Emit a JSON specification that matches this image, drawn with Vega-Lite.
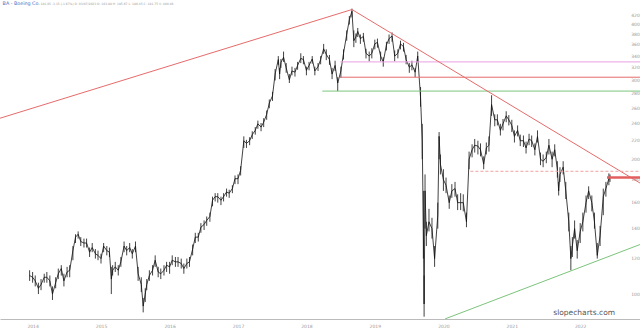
{
"$schema": "https://vega.github.io/schema/vega-lite/v6.json",
"width": 640, "height": 319,
"autosize": {"type": "none"},
"padding": {"left": 0, "top": 0, "right": 0, "bottom": 11},
"background": "white",
"config": {"view": {"stroke": null}, "font": "DejaVu Sans"},
"datasets": {
"px": [
{"d":"2014-06-15","v":110,"l":107,"h":113},{"d":"2014-07-01","v":109,"l":106,"h":112},{"d":"2014-07-15","v":107,"l":104,"h":110},{"d":"2014-08-01","v":103,"l":100,"h":106},{"d":"2014-08-15","v":105,"l":102,"h":108},{"d":"2014-09-01","v":109,"l":106,"h":111},{"d":"2014-09-15","v":109,"l":106,"h":112},{"d":"2014-10-01","v":107,"l":104,"h":110},{"d":"2014-10-15","v":100,"l":97,"h":104},{"d":"2014-11-01","v":106,"l":103,"h":109},{"d":"2014-11-15","v":111,"l":108,"h":114},{"d":"2014-12-01","v":114,"l":110,"h":116},{"d":"2014-12-15","v":107,"l":104,"h":111},
{"d":"2015-01-01","v":112,"l":109,"h":115},{"d":"2015-01-15","v":113,"l":109,"h":116},{"d":"2015-02-01","v":125,"l":119,"h":128},{"d":"2015-02-15","v":134,"l":130,"h":136},{"d":"2015-03-01","v":136,"l":133,"h":138},{"d":"2015-03-15","v":131,"l":128,"h":134},{"d":"2015-04-01","v":130,"l":127,"h":133},{"d":"2015-04-15","v":130,"l":127,"h":133},{"d":"2015-05-01","v":124,"l":121,"h":127},{"d":"2015-05-15","v":127,"l":124,"h":130},{"d":"2015-06-01","v":123,"l":120,"h":126},{"d":"2015-06-15","v":122,"l":119,"h":125},{"d":"2015-07-01","v":120,"l":117,"h":123},{"d":"2015-07-15","v":128,"l":124,"h":130},{"d":"2015-08-01","v":125,"l":122,"h":128},{"d":"2015-08-15","v":124,"l":121,"h":127},{"d":"2015-08-25","v":108,"l":100,"h":115},{"d":"2015-09-01","v":113,"l":110,"h":116},{"d":"2015-09-15","v":115,"l":112,"h":118},{"d":"2015-10-01","v":113,"l":110,"h":116},{"d":"2015-10-15","v":118,"l":115,"h":121},{"d":"2015-11-01","v":128,"l":124,"h":131},{"d":"2015-11-15","v":125,"l":122,"h":128},{"d":"2015-12-01","v":127,"l":124,"h":130},{"d":"2015-12-15","v":123,"l":120,"h":126},
{"d":"2016-01-01","v":128,"l":124,"h":131},{"d":"2016-01-15","v":111,"l":107,"h":115},{"d":"2016-02-01","v":105,"l":101,"h":109},{"d":"2016-02-11","v":94,"l":91,"h":98},{"d":"2016-02-22","v":100,"l":96,"h":103},{"d":"2016-03-01","v":105,"l":102,"h":108},{"d":"2016-03-15","v":110,"l":107,"h":113},{"d":"2016-04-01","v":113,"l":110,"h":116},{"d":"2016-04-15","v":119,"l":115,"h":122},{"d":"2016-05-01","v":112,"l":109,"h":115},{"d":"2016-05-15","v":111,"l":108,"h":114},{"d":"2016-06-01","v":113,"l":110,"h":116},{"d":"2016-06-15","v":116,"l":112,"h":118},{"d":"2016-07-01","v":115,"l":111,"h":118},{"d":"2016-07-15","v":119,"l":116,"h":122},{"d":"2016-08-01","v":118,"l":115,"h":121},{"d":"2016-08-15","v":118,"l":115,"h":121},{"d":"2016-09-01","v":117,"l":114,"h":120},{"d":"2016-09-15","v":114,"l":111,"h":117},{"d":"2016-10-01","v":117,"l":114,"h":120},{"d":"2016-10-15","v":118,"l":115,"h":121},{"d":"2016-11-01","v":126,"l":122,"h":129},{"d":"2016-11-15","v":134,"l":130,"h":137},{"d":"2016-12-01","v":134,"l":131,"h":137},{"d":"2016-12-15","v":141,"l":137,"h":144},
{"d":"2017-01-01","v":143,"l":139,"h":146},{"d":"2017-01-15","v":146,"l":142,"h":149},{"d":"2017-02-01","v":149,"l":145,"h":152},{"d":"2017-02-15","v":162,"l":157,"h":165},{"d":"2017-03-01","v":165,"l":161,"h":168},{"d":"2017-03-15","v":165,"l":160,"h":168},{"d":"2017-04-01","v":162,"l":158,"h":165},{"d":"2017-04-15","v":165,"l":161,"h":168},{"d":"2017-05-01","v":169,"l":165,"h":172},{"d":"2017-05-15","v":168,"l":164,"h":171},{"d":"2017-06-01","v":172,"l":168,"h":175},{"d":"2017-06-15","v":181,"l":176,"h":184},{"d":"2017-07-01","v":181,"l":176,"h":185},{"d":"2017-07-15","v":189,"l":184,"h":193},{"d":"2017-08-01","v":220,"l":212,"h":225},{"d":"2017-08-15","v":217,"l":212,"h":221},{"d":"2017-09-01","v":220,"l":215,"h":224},{"d":"2017-09-15","v":227,"l":222,"h":231},{"d":"2017-10-01","v":232,"l":227,"h":236},{"d":"2017-10-15","v":240,"l":234,"h":244},{"d":"2017-11-01","v":236,"l":231,"h":241},{"d":"2017-11-15","v":242,"l":236,"h":247},{"d":"2017-12-01","v":252,"l":245,"h":257},{"d":"2017-12-15","v":267,"l":260,"h":272},
{"d":"2018-01-01","v":277,"l":270,"h":283},{"d":"2018-01-15","v":310,"l":300,"h":318},{"d":"2018-02-01","v":334,"l":325,"h":340},{"d":"2018-02-08","v":310,"l":302,"h":320},{"d":"2018-02-15","v":329,"l":320,"h":335},{"d":"2018-03-01","v":338,"l":330,"h":348},{"d":"2018-03-15","v":320,"l":312,"h":328},{"d":"2018-04-01","v":301,"l":296,"h":310},{"d":"2018-04-15","v":315,"l":308,"h":322},{"d":"2018-05-01","v":313,"l":306,"h":320},{"d":"2018-05-15","v":324,"l":317,"h":330},{"d":"2018-06-01","v":336,"l":328,"h":345},{"d":"2018-06-15","v":334,"l":326,"h":340},{"d":"2018-07-01","v":316,"l":308,"h":322},{"d":"2018-07-15","v":324,"l":316,"h":330},{"d":"2018-08-01","v":335,"l":327,"h":340},{"d":"2018-08-15","v":315,"l":308,"h":322},{"d":"2018-09-01","v":322,"l":315,"h":328},{"d":"2018-09-15","v":334,"l":326,"h":340},{"d":"2018-10-01","v":353,"l":344,"h":362},{"d":"2018-10-15","v":343,"l":333,"h":352},{"d":"2018-11-01","v":334,"l":325,"h":342},{"d":"2018-11-15","v":310,"l":302,"h":320},{"d":"2018-12-01","v":324,"l":315,"h":332},{"d":"2018-12-15","v":296,"l":284,"h":305},
{"d":"2019-01-01","v":315,"l":304,"h":322},{"d":"2019-01-15","v":345,"l":334,"h":352},{"d":"2019-02-01","v":380,"l":368,"h":388},{"d":"2019-02-15","v":410,"l":400,"h":418},{"d":"2019-03-01","v":428,"l":415,"h":434},{"d":"2019-03-11","v":368,"l":356,"h":388},{"d":"2019-03-22","v":375,"l":364,"h":382},{"d":"2019-04-01","v":386,"l":375,"h":393},{"d":"2019-04-15","v":372,"l":362,"h":380},{"d":"2019-05-01","v":376,"l":366,"h":383},{"d":"2019-05-15","v":345,"l":336,"h":353},{"d":"2019-06-01","v":340,"l":331,"h":348},{"d":"2019-06-15","v":345,"l":336,"h":354},{"d":"2019-07-01","v":362,"l":352,"h":370},{"d":"2019-07-15","v":365,"l":355,"h":372},{"d":"2019-08-01","v":340,"l":331,"h":348},{"d":"2019-08-15","v":330,"l":322,"h":338},{"d":"2019-09-01","v":360,"l":350,"h":366},{"d":"2019-09-15","v":372,"l":362,"h":380},{"d":"2019-10-01","v":377,"l":366,"h":384},{"d":"2019-10-15","v":340,"l":331,"h":350},{"d":"2019-11-01","v":345,"l":336,"h":352},{"d":"2019-11-15","v":362,"l":352,"h":368},{"d":"2019-12-01","v":357,"l":348,"h":364},{"d":"2019-12-15","v":334,"l":326,"h":342},
{"d":"2020-01-01","v":321,"l":312,"h":328},{"d":"2020-01-15","v":325,"l":316,"h":332},{"d":"2020-02-01","v":313,"l":305,"h":320},{"d":"2020-02-15","v":340,"l":330,"h":348},{"d":"2020-03-01","v":275,"l":262,"h":290},{"d":"2020-03-10","v":220,"l":200,"h":240},{"d":"2020-03-16","v":140,"l":120,"h":170},{"d":"2020-03-20","v":95,"l":89,"h":110},{"d":"2020-03-25","v":170,"l":140,"h":185},{"d":"2020-04-01","v":135,"l":128,"h":145},{"d":"2020-04-15","v":145,"l":138,"h":155},{"d":"2020-05-01","v":140,"l":133,"h":148},{"d":"2020-05-15","v":120,"l":115,"h":128},{"d":"2020-06-01","v":150,"l":140,"h":160},{"d":"2020-06-08","v":225,"l":200,"h":230},{"d":"2020-06-15","v":195,"l":185,"h":205},{"d":"2020-07-01","v":180,"l":170,"h":190},{"d":"2020-07-15","v":175,"l":168,"h":182},{"d":"2020-08-01","v":160,"l":155,"h":166},{"d":"2020-08-15","v":170,"l":164,"h":176},{"d":"2020-09-01","v":172,"l":165,"h":178},{"d":"2020-09-15","v":160,"l":154,"h":167},{"d":"2020-10-01","v":160,"l":154,"h":168},{"d":"2020-10-15","v":160,"l":153,"h":167},{"d":"2020-11-01","v":145,"l":141,"h":152},{"d":"2020-11-15","v":200,"l":190,"h":208},{"d":"2020-12-01","v":210,"l":202,"h":216},{"d":"2020-12-15","v":215,"l":207,"h":222},
{"d":"2021-01-01","v":214,"l":205,"h":220},{"d":"2021-01-15","v":210,"l":203,"h":217},{"d":"2021-02-01","v":195,"l":190,"h":203},{"d":"2021-02-15","v":212,"l":205,"h":218},{"d":"2021-03-01","v":215,"l":208,"h":225},{"d":"2021-03-15","v":265,"l":250,"h":278},{"d":"2021-04-01","v":245,"l":237,"h":252},{"d":"2021-04-15","v":245,"l":238,"h":252},{"d":"2021-05-01","v":232,"l":226,"h":240},{"d":"2021-05-15","v":240,"l":232,"h":246},{"d":"2021-06-01","v":250,"l":242,"h":256},{"d":"2021-06-15","v":245,"l":238,"h":251},{"d":"2021-07-01","v":238,"l":230,"h":245},{"d":"2021-07-15","v":225,"l":218,"h":232},{"d":"2021-08-01","v":232,"l":225,"h":238},{"d":"2021-08-15","v":220,"l":214,"h":227},{"d":"2021-09-01","v":220,"l":213,"h":226},{"d":"2021-09-15","v":212,"l":206,"h":219},{"d":"2021-10-01","v":222,"l":215,"h":228},{"d":"2021-10-15","v":220,"l":213,"h":226},{"d":"2021-11-01","v":210,"l":204,"h":217},{"d":"2021-11-15","v":225,"l":218,"h":232},{"d":"2021-12-01","v":200,"l":194,"h":207},{"d":"2021-12-15","v":198,"l":192,"h":205},
{"d":"2022-01-01","v":202,"l":196,"h":208},{"d":"2022-01-15","v":215,"l":205,"h":222},{"d":"2022-02-01","v":200,"l":192,"h":208},{"d":"2022-02-15","v":210,"l":203,"h":216},{"d":"2022-03-01","v":190,"l":182,"h":198},{"d":"2022-03-08","v":170,"l":166,"h":178},{"d":"2022-03-15","v":185,"l":178,"h":192},{"d":"2022-04-01","v":192,"l":185,"h":198},{"d":"2022-04-15","v":170,"l":163,"h":178},{"d":"2022-05-01","v":145,"l":138,"h":152},{"d":"2022-05-12","v":120,"l":113,"h":128},{"d":"2022-05-20","v":128,"l":121,"h":134},{"d":"2022-06-01","v":140,"l":133,"h":146},{"d":"2022-06-15","v":125,"l":120,"h":132},{"d":"2022-07-01","v":138,"l":130,"h":144},{"d":"2022-07-15","v":145,"l":138,"h":152},{"d":"2022-08-01","v":160,"l":152,"h":166},{"d":"2022-08-15","v":170,"l":163,"h":174},{"d":"2022-09-01","v":160,"l":153,"h":166},{"d":"2022-09-15","v":145,"l":140,"h":152},{"d":"2022-09-30","v":122,"l":120,"h":130},{"d":"2022-10-15","v":135,"l":128,"h":142},{"d":"2022-11-01","v":165,"l":150,"h":172},{"d":"2022-11-15","v":172,"l":165,"h":178},{"d":"2022-12-01","v":181,"l":175,"h":186},{"d":"2022-12-07","v":181,"l":178,"h":185}
],
"tl": [
{"d":"2014-01-08","v":247,"d2":"2019-03-01","v2":432,"k":"r"},
{"d":"2019-03-01","v":432,"d2":"2023-05-16","v2":177,"k":"r"},
{"d":"2020-07-10","v":88,"d2":"2023-05-16","v2":129,"k":"g"}
],
"hl": [
{"d":"2018-12-29","d2":"2023-05-16","v":330,"k":"p"},
{"d":"2018-12-29","d2":"2023-05-16","v":305,"k":"r"},
{"d":"2018-09-24","d2":"2023-05-16","v":284,"k":"g"}
],
"dl": [{"d":"2020-11-22","d2":"2023-05-16","v":188}],
"cl": [{"d":"2022-11-21","d2":"2023-05-16","v":182}]
},
"layer": [
{
"data": {"name": "px"},
"mark": {"type": "rule", "color": "#111", "strokeWidth": 0.8},
"encoding": {
"x": {"field": "d", "type": "temporal", "scale": {"domain": [{"year":2014,"month":1,"date":8},{"year":2023,"month":5,"date":16}]},
"axis": {"title": null, "values": [{"year":2014,"month":7,"date":1},{"year":2015,"month":7,"date":1},{"year":2016,"month":7,"date":1},{"year":2017,"month":7,"date":1},{"year":2018,"month":7,"date":1},{"year":2019,"month":7,"date":1},{"year":2020,"month":7,"date":1},{"year":2021,"month":7,"date":1},{"year":2022,"month":7,"date":1}], "format": "%Y", "labelFontSize": 4.5, "labelColor": "#999", "ticks": false, "tickSize": 0, "grid": false, "domainColor": "#bbb", "domainWidth": 1, "labelPadding": 4}},
"y": {"field": "l", "type": "quantitative", "scale": {"type": "log", "domain": [87.95, 453.7], "nice": false, "zero": false},
"axis": {"title": null, "orient": "right", "values": [100,120,140,160,180,200,220,240,260,280,300,320,340,360,380,400,420], "format": "d", "labelFontSize": 4.5, "labelColor": "#999", "ticks": false, "tickSize": 0, "domain": false, "grid": false, "labelPadding": -5, "labelAlign": "center"}},
"y2": {"field": "h"}
}
},
{
"data": {"name": "px"},
"mark": {"type": "line", "color": "#111", "strokeWidth": 0.8},
"encoding": {
"x": {"field": "d", "type": "temporal", "scale": {"domain": [{"year":2014,"month":1,"date":8},{"year":2023,"month":5,"date":16}]}},
"y": {"field": "v", "type": "quantitative", "scale": {"type": "log", "domain": [87.95, 453.7], "nice": false, "zero": false}}
}
},
{
"data": {"name": "hl"},
"mark": {"type": "rule", "strokeWidth": 1, "clip": true},
"encoding": {
"x": {"field": "d", "type": "temporal", "scale": {"domain": [{"year":2014,"month":1,"date":8},{"year":2023,"month":5,"date":16}]}},
"x2": {"field": "d2"},
"y": {"field": "v", "type": "quantitative", "scale": {"type": "log", "domain": [87.95, 453.7], "nice": false, "zero": false}},
"color": {"field": "k", "type": "nominal", "scale": {"domain": ["r","g","p"], "range": ["#e66b6b","#7cc47c","#e9a0e4"]}, "legend": null}
}
},
{
"data": {"name": "tl"},
"mark": {"type": "rule", "strokeWidth": 1, "clip": true},
"encoding": {
"x": {"field": "d", "type": "temporal", "scale": {"domain": [{"year":2014,"month":1,"date":8},{"year":2023,"month":5,"date":16}]}},
"x2": {"field": "d2"},
"y": {"field": "v", "type": "quantitative", "scale": {"type": "log", "domain": [87.95, 453.7], "nice": false, "zero": false}},
"y2": {"field": "v2"},
"color": {"field": "k", "type": "nominal", "scale": {"domain": ["r","g","p"], "range": ["#e66b6b","#7cc47c","#e9a0e4"]}, "legend": null}
}
},
{
"data": {"name": "dl"},
"mark": {"type": "rule", "strokeWidth": 1, "strokeDash": [3, 2], "color": "#f0a0a0", "clip": true},
"encoding": {
"x": {"field": "d", "type": "temporal", "scale": {"domain": [{"year":2014,"month":1,"date":8},{"year":2023,"month":5,"date":16}]}},
"x2": {"field": "d2"},
"y": {"field": "v", "type": "quantitative", "scale": {"type": "log", "domain": [87.95, 453.7], "nice": false, "zero": false}}
}
},
{
"data": {"name": "cl"},
"mark": {"type": "rule", "strokeWidth": 2.5, "color": "#e35f5f", "clip": true},
"encoding": {
"x": {"field": "d", "type": "temporal", "scale": {"domain": [{"year":2014,"month":1,"date":8},{"year":2023,"month":5,"date":16}]}},
"x2": {"field": "d2"},
"y": {"field": "v", "type": "quantitative", "scale": {"type": "log", "domain": [87.95, 453.7], "nice": false, "zero": false}}
}
},
{
"data": {"values": [{}]},
"mark": {"type": "text", "text": "BA - Boeing Co.", "align": "left", "baseline": "middle", "fontSize": 4.8, "color": "#3b6fc4", "font": "DejaVu Sans"},
"encoding": {
"x": {"datum": {"year":2014,"month":1,"date":22}, "type": "temporal"},
"y": {"datum": 444, "type": "quantitative"}
}
},
{
"data": {"values": [{}]},
"mark": {"type": "text", "text": "181.05  -3.15 (-1.67%)  D: 03/07/2023  O: 183.88  H: 185.67  L: 180.45  C: 181.75  V: 400.46", "align": "left", "baseline": "middle", "fontSize": 3.0, "color": "#999", "font": "DejaVu Sans"},
"encoding": {
"x": {"datum": {"year":2014,"month":8,"date":12}, "type": "temporal"},
"y": {"datum": 444, "type": "quantitative"}
}
},
{
"data": {"values": [{}]},
"mark": {"type": "text", "text": "slopecharts.com", "align": "center", "baseline": "middle", "fontSize": 7.5, "color": "#555", "font": "DejaVu Sans"},
"encoding": {
"x": {"datum": {"year":2022,"month":7,"date":22}, "type": "temporal"},
"y": {"datum": 90.7, "type": "quantitative"}
}
}
]
}
